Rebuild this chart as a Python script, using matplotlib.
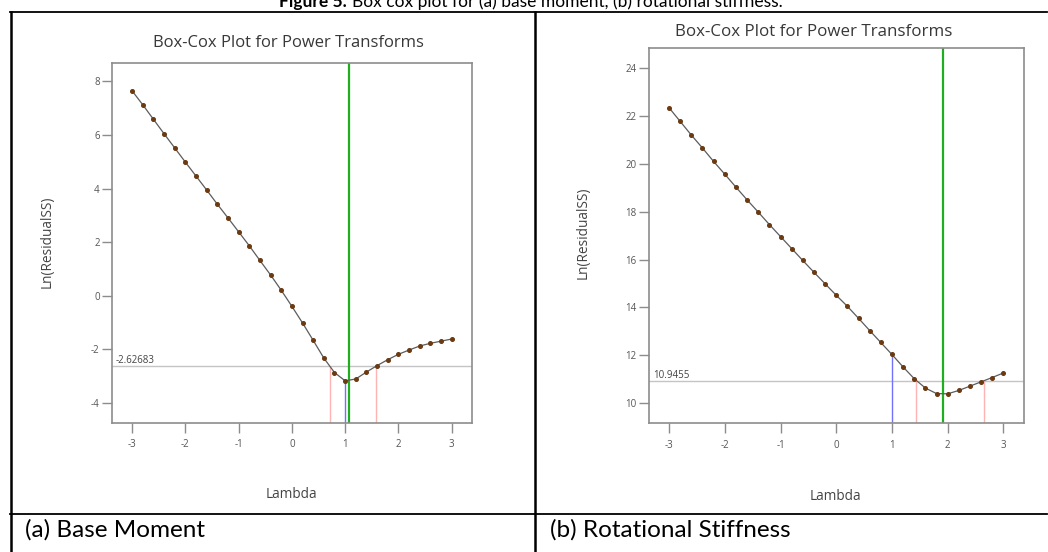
import matplotlib
matplotlib.use('Agg')
import matplotlib.pyplot as plt

W, H = 1048, 552

# lambda grid of the Box-Cox search
lam = [-3.0, -2.8, -2.6, -2.4, -2.2, -2.0, -1.8, -1.6, -1.4, -1.2, -1.0,
       -0.8, -0.6, -0.4, -0.2, 0.0, 0.2, 0.4, 0.6, 0.8, 1.0,
       1.2, 1.4, 1.6, 1.8, 2.0, 2.2, 2.4, 2.6, 2.8, 3.0]

# Ln(ResidualSS) for base moment
moment_ss = [7.65, 7.13, 6.59, 6.05, 5.52, 4.99, 4.47, 3.95, 3.42, 2.91, 2.39,
             1.87, 1.32, 0.78, 0.21, -0.39, -1.01, -1.66, -2.32, -2.86, -3.17,
             -3.10, -2.84, -2.60, -2.38, -2.18, -2.02, -1.87, -1.77, -1.69, -1.61]
moment_best = 1.07
moment_ci = (0.71, 1.58)
moment_level = -2.62683
moment_label = "-2.62683"

# Ln(ResidualSS) for rotational stiffness
stiff_ss = [22.33, 21.76, 21.19, 20.65, 20.09, 19.56, 19.02, 18.49, 17.98, 17.46, 16.96,
            16.46, 15.96, 15.47, 14.99, 14.51, 14.05, 13.55, 13.04, 12.54, 12.04,
            11.52, 11.03, 10.64, 10.41, 10.40, 10.54, 10.72, 10.90, 11.08, 11.27]
stiff_best = 1.92
stiff_ci = (1.44, 2.65)
stiff_level = 10.9455
stiff_label = "10.9455"

current_lam = 1.0

x_ticks = [-3, -2, -1, 0, 1, 2, 3]
moment_yticks = [-4, -2, 0, 2, 4, 6, 8]
stiff_yticks = [10, 12, 14, 16, 18, 20, 22, 24]

TITLE = "Box-Cox Plot for Power Transforms"
CAPTION_BOLD = "Figure 5."
CAPTION = "Box cox plot for (a) base moment, (b) rotational stiffness."
PANEL_NAMES = ["(a) Base Moment", "(b) Rotational Stiffness"]

plt.rcParams['font.family'] = ['Open Sans', 'DejaVu Sans']
plt.rcParams['axes.unicode_minus'] = False

fig = plt.figure(figsize=(W / 100, H / 100), dpi=100)
fig.patch.set_facecolor('white')


def px_axes(left, right, top, bottom):
    return fig.add_axes([left / W, (H - bottom) / H, (right - left) / W, (bottom - top) / H])


def boxcox_panel(ax, ys, best, ci, level, label, xlim, ylim, yticks):
    ax.set_xlim(*xlim)
    ax.set_ylim(*ylim)
    ax.axhline(level, color='#c4c4c4', lw=1.0, zorder=1)
    ax.axvline(best, color='#1fae1f', lw=1.6, zorder=2)
    ax.vlines(list(ci), ylim[0], level, color='#ffb4b4', lw=1.0, zorder=2)
    ax.vlines(current_lam, ylim[0], ys[lam.index(current_lam)], color='#7272ff', lw=1.0, zorder=2)
    ax.plot(lam, ys, color='#5c5c5c', lw=0.9, zorder=3)
    ax.plot(lam, ys, 'o', ms=2.6, color='#6b3a12', zorder=4)
    ax.text(xlim[0] + 0.07, level, label, fontsize=7, color='#444444',
            va='bottom', ha='left')
    ax.set_xticks(x_ticks)
    ax.set_yticks(yticks)
    for s in ax.spines.values():
        s.set_color('#8c8c8c')
        s.set_linewidth(1.2)
    ax.tick_params(direction='out', length=7, width=1.0, color='#8c8c8c',
                   labelsize=7, labelcolor='#555555')
    ax.tick_params(axis='x', pad=5)
    ax.tick_params(axis='y', pad=2)


ax1 = px_axes(112.2, 471.5, 62.7, 422.7)
boxcox_panel(ax1, moment_ss, moment_best, moment_ci, moment_level, moment_label,
             (-3.37, 3.37), (-4.73, 8.69), moment_yticks)

ax2 = px_axes(649, 1024, 48.3, 423.3)
boxcox_panel(ax2, stiff_ss, stiff_best, stiff_ci, stiff_level, stiff_label,
             (-3.36, 3.37), (9.17, 24.81), stiff_yticks)

# page layer in pixel coordinates: table rules, titles, captions
bg = fig.add_axes([0, 0, 1, 1], zorder=-1)
bg.set_xlim(0, W)
bg.set_ylim(H, 0)
bg.axis('off')

rule = dict(color='black', lw=1.3)
bg.plot([10, 1047], [12, 12], **rule)
bg.plot([10, 1047], [514, 514], **rule)
bg.plot([11, 11], [12, H], color='black', lw=1.8)
bg.plot([535, 535], [12, H], color='black', lw=1.8)

bg.text(288, 43, TITLE, fontsize=12, color='#383838', ha='center', va='center')
bg.text(814, 32, TITLE, fontsize=12.2, color='#383838', ha='center', va='center')

bg.text(47, 242, "Ln(ResidualSS)", fontsize=9.8, color='#444444', rotation=90,
        ha='center', va='center')
bg.text(583, 233, "Ln(ResidualSS)", fontsize=9.8, color='#444444', rotation=90,
        ha='center', va='center')
bg.text(291, 494, "Lambda", fontsize=9.8, color='#444444', ha='center', va='center')
bg.text(835, 497, "Lambda", fontsize=9.8, color='#444444', ha='center', va='center')

bg.text(25, 537, PANEL_NAMES[0], fontsize=17.5, family='Lato', color='black',
        ha='left', va='baseline')
bg.text(550, 537, PANEL_NAMES[1], fontsize=17.5, family='Lato', color='black',
        ha='left', va='baseline')

bg.text(279, 7, CAPTION_BOLD, fontsize=12.5, family='Lato', weight='bold',
        ha='left', va='baseline')
bg.text(352, 7, CAPTION, fontsize=12.5, family='Lato', ha='left', va='baseline')

fig.savefig('out.png', dpi=100)
